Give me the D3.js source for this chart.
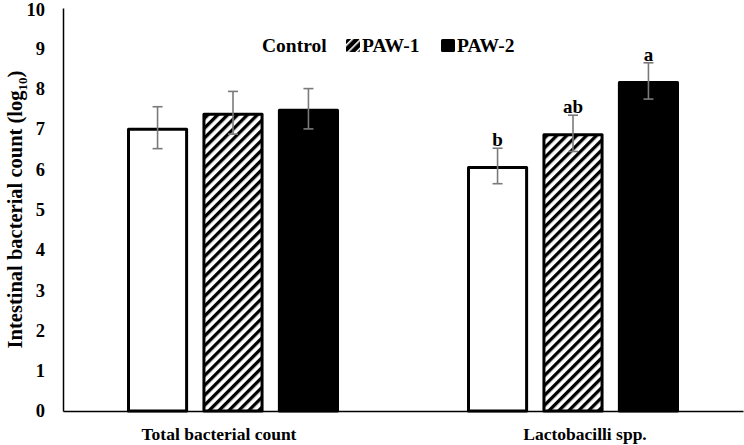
<!DOCTYPE html>
<html><head><meta charset="utf-8">
<script src="https://cdn.jsdelivr.net/npm/d3@7"></script>
<style>body{margin:0;background:#fff}svg{display:block}text{font-family:"Liberation Serif","Times New Roman",serif;font-weight:bold;fill:#000}</style>
</head><body><svg id="c" width="744" height="445"></svg>
<script>
const categories = ["Total bacterial count", "Lactobacilli spp."];
const seriesNames = ["Control", "PAW-1", "PAW-2"];
const values = [[7.03, 7.40, 7.50], [6.08, 6.89, 8.19]];
const errors = [[0.52, 0.53, 0.50], [0.44, 0.45, 0.45]];
const letters = [["", "", ""], ["b", "ab", "a"]];
const yTicks = [0,1,2,3,4,5,6,7,8,9,10];

const svg = d3.select("#c");
const m = {l:63, r:1, t:8, b:34};
const W = 744, H = 445;
const x0 = d3.scaleBand().domain(categories).range([m.l, W - m.r]).paddingInner(0).paddingOuter(0);
const x1 = d3.scaleBand().domain(seriesNames).range([64, x0.bandwidth() - 64]).paddingInner(0.19).paddingOuter(0);
const y = d3.scaleLinear().domain([0, 10]).range([H - m.b, m.t]);

const defs = svg.append("defs");
const pat = defs.append("pattern").attr("id","hatch").attr("patternUnits","userSpaceOnUse")
  .attr("width",7).attr("height",7).attr("patternTransform","rotate(45)");
pat.append("rect").attr("width",7).attr("height",7).attr("fill","#fff");
pat.append("rect").attr("width",3.3).attr("height",7).attr("fill","#000");
const patS = defs.append("pattern").attr("id","hatchS").attr("patternUnits","userSpaceOnUse")
  .attr("width",6).attr("height",6).attr("patternTransform","rotate(45)");
patS.append("rect").attr("width",6).attr("height",6).attr("fill","#000");
patS.append("rect").attr("width",1.6).attr("height",6).attr("fill","#fff");
const fills = {"Control":"#fff","PAW-1":"url(#hatch)","PAW-2":"#000"};

// axes
const yAxis = d3.axisLeft(y).tickValues(yTicks).tickSize(0).tickPadding(18).tickFormat(d3.format("d"));
const gy = svg.append("g").attr("transform",`translate(${m.l},0)`).call(yAxis);
gy.select(".domain").attr("stroke","#000").attr("stroke-width",1.5);
gy.selectAll("text").attr("font-size",18.5).style("font-family","Liberation Serif").style("font-weight","bold")
  .attr("dy", d => d === 10 ? "0.42em" : "0.32em");

const groups = svg.append("g").selectAll("g").data(categories).join("g")
  .attr("transform", d => `translate(${x0(d)},0)`);
groups.each(function(cat, ci){
  const g = d3.select(this);
  seriesNames.forEach((s, si) => {
    const v = values[ci][si], e = errors[ci][si];
    const bx = x1(s), bw = x1.bandwidth();
    g.append("rect").attr("x", bx + 1.5).attr("y", y(v) + 1.5).attr("width", bw - 3)
      .attr("height", y(0) - y(v) - 1.5).attr("fill", fills[s]).attr("stroke","#000").attr("stroke-width",3)
      .attr("stroke-linejoin","round");
    const cx = bx + bw/2;
    g.append("line").attr("x1",cx).attr("x2",cx).attr("y1",y(v+e)).attr("y2",y(v-e)).attr("stroke","#7a7a7a").attr("stroke-width",1.6);
    [v+e, v-e].forEach(t => g.append("line").attr("x1",cx-5).attr("x2",cx+5).attr("y1",y(t)).attr("y2",y(t)).attr("stroke","#7a7a7a").attr("stroke-width",1.6));
    if (letters[ci][si]) g.append("text").attr("x",cx).attr("y",y(v+e)-2).attr("text-anchor","middle").attr("font-size",19).text(letters[ci][si]);
  });
});

const xAxis = d3.axisBottom(x0).tickSize(0).tickPadding(17);
const gx = svg.append("g").attr("transform",`translate(0,${y(0)})`).call(xAxis);
gx.select(".domain").attr("stroke","#000").attr("stroke-width",1.5);
gx.selectAll("text").attr("font-size",17.5).style("font-family","Liberation Serif").style("font-weight","bold")
  .attr("dx", (d, i) => i === 0 ? -14 : 12);

// y label
svg.append("text").attr("transform",`translate(22,${(y(0)+y(10))/2}) rotate(-90)`).attr("text-anchor","middle")
  .attr("font-size",20.5).html('Intestinal bacterial count (log<tspan font-size="13" dy="5">10</tspan><tspan dy="-5">)</tspan>');

// legend
const leg = [{n:"Control",x:262,sw:null},{n:"PAW-1",x:346,sw:"url(#hatchS)"},{n:"PAW-2",x:441,sw:"#000"}];
leg.forEach(L => {
  if (L.sw) svg.append("rect").attr("x",L.x).attr("y",39).attr("width",14).attr("height",13).attr("fill",L.sw).attr("rx",1.5);
  svg.append("text").attr("x", L.sw ? L.x + 16 : L.x).attr("y",52).attr("font-size",19.5).text(L.n);
});
</script></body></html>
